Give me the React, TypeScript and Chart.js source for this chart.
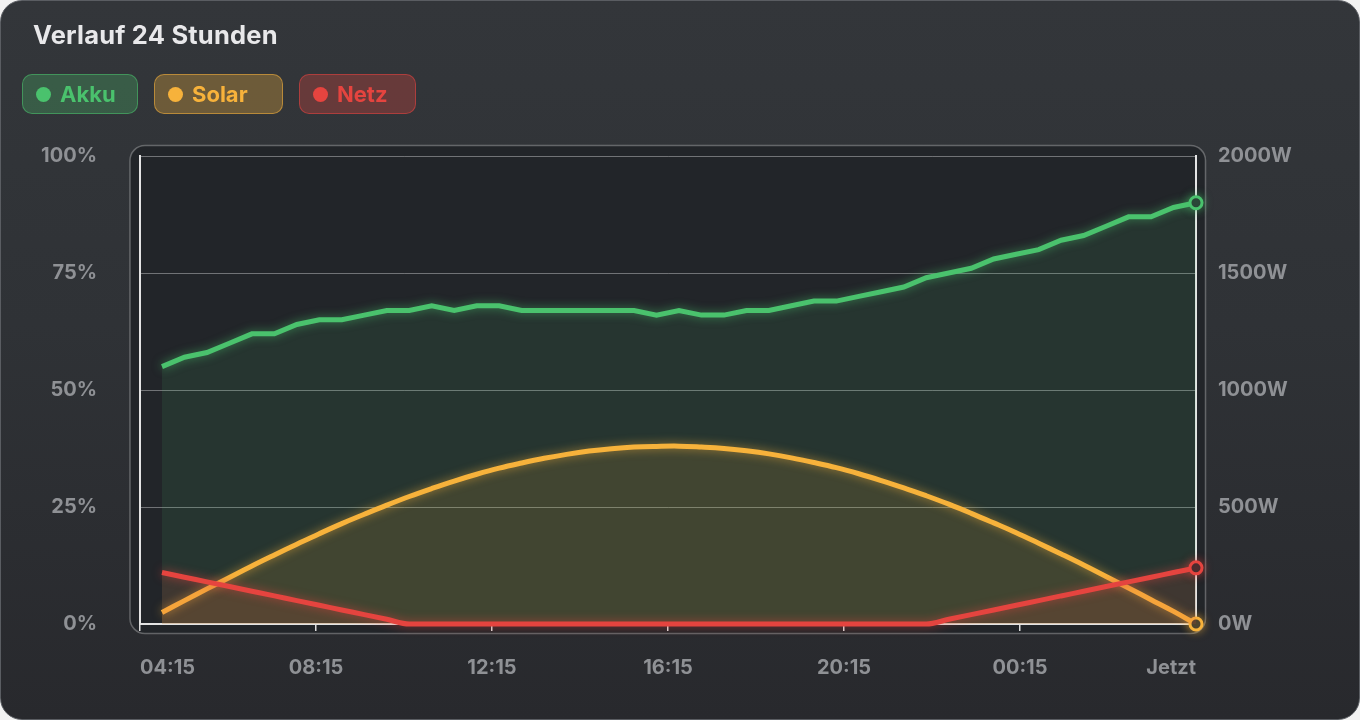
import React, { useEffect, useRef } from "react";
import { Chart, registerables } from "chart.js";

Chart.register(...registerables);

// ---- data ----
const title = "Verlauf 24 Stunden";
const seriesNames = ["Akku", "Solar", "Netz"];
const seriesColors = ["#4ac26d", "#f7b23b", "#e5443f"];
const xTickLabels = ["04:15", "08:15", "12:15", "16:15", "20:15", "00:15", "Jetzt"];
// hours after 04:15 of the first and the last sample
const firstSampleHour = 0.5;
const lastSampleHour = 24;

const akkuPercent = [
  55, 57, 58, 60, 62, 62, 64, 65, 65, 66,
  67, 67, 68, 67, 68, 68, 67, 67, 67, 67,
  67, 67, 66, 67, 66, 66, 67, 67, 68, 69,
  69, 70, 71, 72, 74, 75, 76, 78, 79, 80,
  82, 83, 85, 87, 87, 89, 90,
];
const solarWatt = [
  49, 100, 150, 199, 248, 295, 341, 386, 429, 469,
  508, 545, 579, 611, 640, 666, 688, 708, 725, 739,
  749, 756, 759, 760, 756, 750, 740, 727, 710, 690,
  668, 642, 613, 582, 548, 512, 473, 432, 390, 345,
  299, 252, 203, 154, 104, 54, 0,
];
const netzWatt = [
  220, 200, 180, 160, 140, 120, 100, 80, 60, 40,
  20, 0, 0, 0, 0, 0, 0, 0, 0, 0,
  0, 0, 0, 0, 0, 0, 0, 0, 0, 0,
  0, 0, 0, 0, 0, 20, 40, 60, 80, 100,
  120, 140, 160, 180, 200, 220, 240,
];

const pctTicks = [0, 25, 50, 75, 100];
const wattTicks = [0, 500, 1000, 1500, 2000];

// ---- styles ----
const W = 1360;
const H = 720;
const FONT = "Inter, 'Noto Sans', sans-serif";
const TICK_FONT = { family: FONT, size: 20, weight: "bold" };
const pillWidths = [116, 129, 117];
const pillBg = ["rgba(74,194,109,0.28)", "rgba(247,178,59,0.30)", "rgba(229,68,63,0.30)"];
const pillBorder = ["rgba(74,194,109,0.55)", "rgba(247,178,59,0.55)", "rgba(229,68,63,0.55)"];

function toPoints(values: number[]) {
  const n = values.length;
  return values.map((v, i) => ({
    x: firstSampleHour + ((lastSampleHour - firstSampleHour) * i) / (n - 1),
    y: v,
  }));
}

function hexA(hex: string, a: number) {
  const r = parseInt(hex.slice(1, 3), 16);
  const g = parseInt(hex.slice(3, 5), 16);
  const b = parseInt(hex.slice(5, 7), 16);
  return `rgba(${r},${g},${b},${a})`;
}

const framePlugin = {
  id: "frame",
  beforeDraw(chart: any) {
    const { ctx, chartArea } = chart;
    const x0 = chartArea.left - 10;
    const y0 = chartArea.top - 10.5;
    const x1 = chartArea.right + 9.5;
    const y1 = chartArea.bottom + 9.5;
    ctx.save();
    ctx.beginPath();
    ctx.roundRect(x0, y0, x1 - x0, y1 - y0, 15);
    ctx.fillStyle = "#222529";
    ctx.fill();
    ctx.lineWidth = 1.5;
    ctx.strokeStyle = "rgba(255,255,255,0.28)";
    ctx.stroke();
    ctx.restore();
  },
};

const glowPlugin = {
  id: "glow",
  beforeDatasetDraw(chart: any, args: any) {
    const ds = chart.data.datasets[args.index];
    const ctx = chart.ctx;
    ctx.save();
    ctx.shadowColor = hexA(ds.borderColor, 0.6);
    ctx.shadowBlur = 10;
  },
  afterDatasetDraw(chart: any) {
    chart.ctx.restore();
  },
};

export default function App() {
  const canvasRef = useRef<HTMLCanvasElement | null>(null);

  useEffect(() => {
    document.body.style.margin = "0";
    const canvas = canvasRef.current;
    if (!canvas) return;
    const lastRadius = (ctx: any) =>
      ctx.dataIndex === ctx.dataset.data.length - 1 ? 6 : 0;

    const chart = new Chart(canvas, {
      type: "line",
      data: {
        datasets: [
          {
            label: seriesNames[0],
            data: toPoints(akkuPercent),
            yAxisID: "y",
            borderColor: seriesColors[0],
            backgroundColor: hexA(seriesColors[0], 0.11),
            fill: "origin",
            borderWidth: 5,
            tension: 0,
            order: 3,
            clip: false,
            pointRadius: lastRadius,
            pointBorderWidth: 3,
            pointBorderColor: seriesColors[0],
            pointBackgroundColor: "#23262a",
          } as any,
          {
            label: seriesNames[1],
            data: toPoints(solarWatt),
            yAxisID: "yW",
            borderColor: seriesColors[1],
            backgroundColor: hexA(seriesColors[1], 0.13),
            fill: "origin",
            borderWidth: 5,
            tension: 0.4,
            order: 2,
            clip: false,
            pointRadius: lastRadius,
            pointBorderWidth: 3,
            pointBorderColor: seriesColors[1],
            pointBackgroundColor: "#23262a",
          },
          {
            label: seriesNames[2],
            data: toPoints(netzWatt),
            yAxisID: "yW",
            borderColor: seriesColors[2],
            backgroundColor: hexA(seriesColors[2], 0.13),
            fill: "origin",
            borderWidth: 5,
            cubicInterpolationMode: "monotone",
            order: 1,
            clip: false,
            pointRadius: lastRadius,
            pointBorderWidth: 3,
            pointBorderColor: seriesColors[2],
            pointBackgroundColor: "#23262a",
          },
        ],
      },
      options: {
        animation: false,
        responsive: false,
        events: [],
        layout: { padding: { top: 156, left: 0, right: 0, bottom: 0 } },
        plugins: {
          legend: { display: false },
          title: { display: false },
          tooltip: { enabled: false },
        },
        scales: {
          x: {
            type: "linear",
            min: 0,
            max: 24,
            afterFit: (s: any) => {
              s.height = 96;
            },
            afterBuildTicks: (s: any) => {
              s.ticks = xTickLabels.map((_, i) => ({ value: i * 4 }));
            },
            grid: {
              drawOnChartArea: false,
              drawTicks: true,
              tickLength: 7,
              color: "#dcdcdc",
              lineWidth: 1.5,
            },
            border: { display: true, color: "#e4e4e4", width: 2 },
            ticks: {
              align: "inner",
              autoSkip: false,
              maxRotation: 0,
              padding: 25,
              color: "#8f9195",
              font: TICK_FONT,
              callback: (_v: any, i: number) => xTickLabels[i],
            },
          } as any,
          y: {
            position: "left",
            min: 0,
            max: 100,
            afterFit: (s: any) => {
              s.width = 140;
            },
            afterBuildTicks: (s: any) => {
              s.ticks = pctTicks.map((v) => ({ value: v }));
            },
            grid: {
              drawTicks: false,
              color: "rgba(255,255,255,0.36)",
              lineWidth: 1,
            },
            border: { display: true, color: "#e4e4e4", width: 2 },
            ticks: {
              padding: 43,
              color: "#8f9195",
              font: TICK_FONT,
              callback: (v: any) => `${v}%`,
            },
          } as any,
          yW: {
            position: "right",
            min: 0,
            max: 2000,
            afterFit: (s: any) => {
              s.width = W - 1196;
            },
            afterBuildTicks: (s: any) => {
              s.ticks = wattTicks.map((v) => ({ value: v }));
            },
            grid: { drawOnChartArea: false, drawTicks: false },
            border: { display: true, color: "#e4e4e4", width: 2 },
            ticks: {
              padding: 22,
              color: "#8f9195",
              font: TICK_FONT,
              callback: (v: any) => `${v}W`,
            },
          } as any,
        },
      },
      plugins: [framePlugin, glowPlugin],
    });
    return () => chart.destroy();
  }, []);

  return (
    <div
      style={{
        position: "fixed",
        left: 0,
        top: 0,
        width: W,
        height: H,
        background: "#f2f2f2",
        overflow: "hidden",
        fontFamily: FONT,
      }}
    >
      <div
        style={{
          position: "absolute",
          left: 0,
          top: 0,
          width: W,
          height: H,
          boxSizing: "border-box",
          borderRadius: 22,
          border: "1.5px solid #5a5d62",
          background: "linear-gradient(180deg, #33363a 0%, #2f3236 45%, #28292d 100%)",
        }}
      />
      <canvas
        ref={canvasRef}
        width={W}
        height={H}
        style={{ position: "absolute", left: 0, top: 0, width: W, height: H }}
      />
      <div
        style={{
          position: "absolute",
          left: 33,
          top: 22,
          fontSize: 25.5,
          lineHeight: "26px",
          letterSpacing: "0.2px",
          fontWeight: 700,
          color: "#e8e8ea",
          whiteSpace: "nowrap",
        }}
      >
        {title}
      </div>
      <div
        style={{
          position: "absolute",
          left: 22,
          top: 74,
          display: "flex",
          gap: 16,
        }}
      >
        {seriesNames.map((name, i) => (
          <div
            key={name}
            style={{
              boxSizing: "border-box",
              width: pillWidths[i],
              height: 40,
              borderRadius: 10,
              border: `1.5px solid ${pillBorder[i]}`,
              background: pillBg[i],
              display: "flex",
              alignItems: "center",
              paddingLeft: 13,
            }}
          >
            <span
              style={{
                width: 15,
                height: 15,
                borderRadius: "50%",
                background: seriesColors[i],
                marginRight: 9,
                flex: "none",
              }}
            />
            <span
              style={{
                color: seriesColors[i],
                fontSize: 22,
                fontWeight: 700,
                lineHeight: "22px",
              }}
            >
              {name}
            </span>
          </div>
        ))}
      </div>
    </div>
  );
}
